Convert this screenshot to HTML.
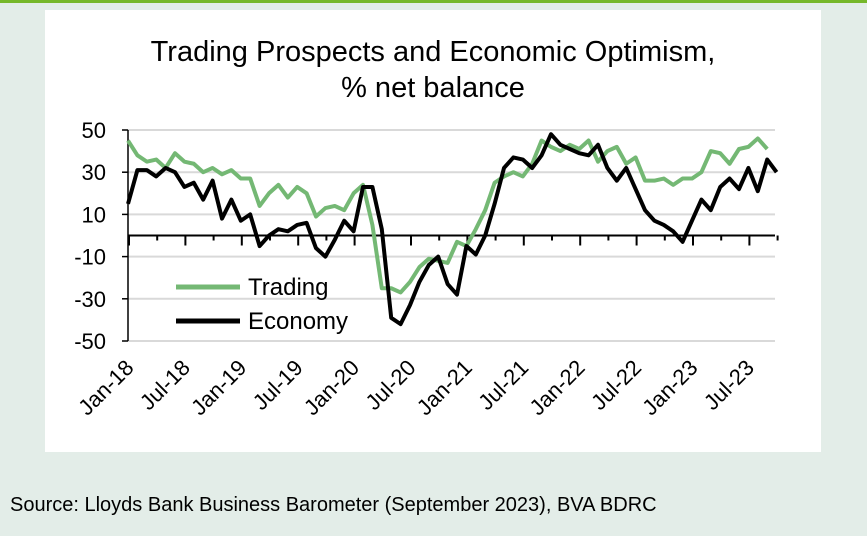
<!DOCTYPE html>
<html><head><meta charset="utf-8"><style>
body{margin:0;width:867px;height:536px;background:#e3ede8;overflow:hidden;font-family:"Liberation Sans",Arial,sans-serif;}
#bar{position:absolute;left:0;top:0;width:867px;height:3px;background:#76b82a}
#panel{position:absolute;left:45px;top:10px;width:776px;height:442px;background:#fff}
#src{position:absolute;left:10px;top:494px;font-size:20px;color:#000}
</style></head><body>
<div id="bar"></div>
<div id="panel"></div>
<svg id="chart" width="867" height="536" style="position:absolute;left:0;top:0">
<text x="433" y="61" text-anchor="middle" font-size="29">Trading Prospects and Economic Optimism,</text>
<text x="433" y="97" text-anchor="middle" font-size="29">% net balance</text>
<g id="grid"></g><g id="axes"></g><g id="series"></g>
<g>
<line x1="176" y1="287" x2="240" y2="287" stroke="#74b874" stroke-width="5"/>
<text x="248" y="295" font-size="24">Trading</text>
<line x1="176" y1="321" x2="240" y2="321" stroke="#000" stroke-width="5"/>
<text x="248" y="329" font-size="24">Economy</text>
</g>
</svg>
<div id="src">Source: Lloyds Bank Business Barometer (September 2023), BVA BDRC</div>
<script>
const yTicks=[50,30,10,-10,-30,-50];
const xLabels=["Jan-18","Jul-18","Jan-19","Jul-19","Jan-20","Jul-20","Jan-21","Jul-21","Jan-22","Jul-22","Jan-23","Jul-23"];
const trading=[45,38,35,36,32,39,35,34,30,32,29,31,27,27,14,20,24,18,23,20,9,13,14,12,20,24,5,-25,-25,-27,-22,-15,-11,-12,-13,-3,-5,3,12,25,28,30,28,34,45,42,40,43,41,45,35,40,42,34,37,26,26,27,24,27,27,30,40,39,34,41,42,46,41];
const economy=[15,31,31,28,32,30,23,25,17,26,8,17,7,10,-5,0,3,2,5,6,-6,-10,-2,7,2,23,23,3,-39,-42,-33,-22,-14,-10,-23,-28,-5,-9,0,15,32,37,36,32,38,48,43,41,39,38,43,32,26,32,22,12,7,5,2,-3,7,17,12,23,27,22,32,21,36,30];
const ns="http://www.w3.org/2000/svg";
const X0=128,DX=9.4,Y0=235.5,K=2.11;
const xs=i=>X0+i*DX, ys=v=>Y0-v*K;
function mk(t,a,p){const e=document.createElementNS(ns,t);for(const k in a)e.setAttribute(k,a[k]);p.appendChild(e);return e;}
const grid=document.getElementById('grid'),axes=document.getElementById('axes'),ser=document.getElementById('series');
yTicks.forEach(v=>{
 const l=mk('line',{x1:X0,x2:775,y1:ys(v),y2:ys(v),stroke:'#d9d9d9','stroke-width':2},grid);
 
 
 mk('line',{x1:X0-6,x2:X0,y1:ys(v),y2:ys(v),stroke:'#000','stroke-width':1.5},axes);
 const t=mk('text',{x:106,y:ys(v)+8,'text-anchor':'end','font-size':22},axes);t.textContent=v;
 
 
});
mk('line',{x1:X0,x2:X0,y1:ys(50),y2:ys(-50),stroke:'#000','stroke-width':1.5},axes);
mk('line',{x1:X0,x2:775,y1:Y0,y2:Y0,stroke:'#000','stroke-width':2},axes);
for(let i=0;i*3<=69;i++){mk('line',{x1:xs(i*3)+1,x2:xs(i*3)+1,y1:Y0,y2:Y0+(i%2?5:10),stroke:'#000','stroke-width':2},axes);}
xLabels.forEach((s,i)=>{
 const x=xs(i*6)+7,y=369;
 const t=mk('text',{x:x,y:y,'text-anchor':'end','font-size':22,transform:`rotate(-45 ${x} ${y})`},axes);t.textContent=s;
 
 
});
function line(d,c,n){const p=mk('polyline',{points:d.map((v,i)=>xs(i)+','+ys(v)).join(' '),fill:'none',stroke:c,'stroke-width':4,'stroke-linejoin':'round'},ser);
 
 }
line(trading,'#74b874','trading-line');
line(economy,'#000','economy-line');
</script>
</body></html>
